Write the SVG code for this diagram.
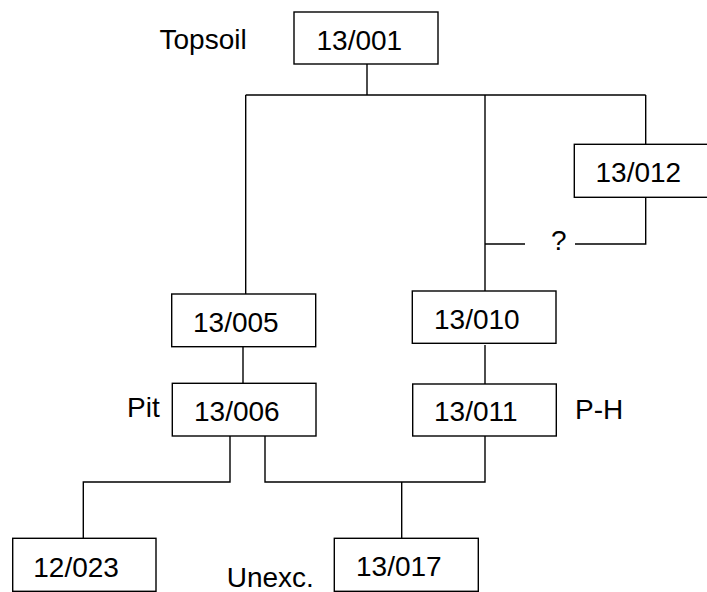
<svg xmlns="http://www.w3.org/2000/svg" width="707" height="592" viewBox="0 0 707 592">
  <style>
    .box { fill: #ffffff; stroke: #000000; stroke-width: 1.4; }
    .wire { fill: none; stroke: #000000; stroke-width: 1.4; }
    text { font-family: "Liberation Sans", Arial, sans-serif; font-size: 28px; fill: #000000; }
  </style>
  <rect width="707" height="592" fill="#ffffff"/>

  <!-- connectors -->
  <g id="connectors" class="wire">
    <path d="M367 64 V95"/>
    <path d="M245.7 95 H645.7"/>
    <path d="M245.7 95 V294"/>
    <path d="M485 95 V291"/>
    <path d="M645.7 95 V144"/>
    <path d="M645.7 197 V244 H575"/>
    <path d="M485 244 H525"/>
    <path d="M243 347 V383"/>
    <path d="M485 345 V384"/>
    <path d="M230 436 V482 H83.3 V538"/>
    <path d="M265 433 V482 H485 V436"/>
    <path d="M401.7 482 V538"/>
  </g>

  <g id="n13-001">
    <rect class="box" x="294" y="12" width="144" height="52"/>
    <text x="316.5" y="50">13/001</text>
  </g>
  <g id="label-topsoil"><text x="159.5" y="48.5">Topsoil</text></g>

  <g id="n13-012">
    <rect class="box" x="574.3" y="144.3" width="144" height="53"/>
    <text x="595.5" y="182">13/012</text>
  </g>
  <g id="label-query"><text x="551" y="250">?</text></g>

  <g id="n13-005">
    <rect class="box" x="171.7" y="294" width="144" height="52.7"/>
    <text x="193" y="332">13/005</text>
  </g>
  <g id="n13-006">
    <rect class="box" x="172.3" y="383.3" width="143.7" height="52.7"/>
    <text x="194" y="420.5">13/006</text>
  </g>
  <g id="label-pit"><text x="127" y="417">Pit</text></g>

  <g id="n13-010">
    <rect class="box" x="412.3" y="291" width="143.7" height="52.3"/>
    <text x="434" y="329">13/010</text>
  </g>
  <g id="n13-011">
    <rect class="box" x="412.7" y="384" width="143.6" height="52"/>
    <text x="434" y="420.5">13/011</text>
  </g>
  <g id="label-ph"><text x="575" y="418.5">P-H</text></g>

  <g id="n12-023">
    <rect class="box" x="12.7" y="538.3" width="143.3" height="53"/>
    <text x="33.3" y="576.7">12/023</text>
  </g>
  <g id="label-unexc"><text x="226.7" y="586.7">Unexc.</text></g>
  <g id="n13-017">
    <rect class="box" x="334.3" y="538.3" width="144" height="53"/>
    <text x="356" y="575.7">13/017</text>
  </g>
</svg>
